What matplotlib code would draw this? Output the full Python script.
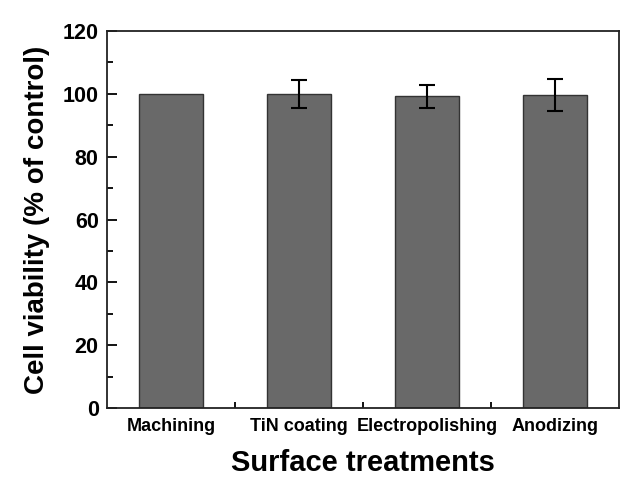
import matplotlib
matplotlib.use("Agg")
import matplotlib.pyplot as plt
from matplotlib.ticker import MultipleLocator, FixedLocator

categories = ["Machining", "TiN coating", "Electropolishing", "Anodizing"]
viability = [100.0, 100.0, 99.2, 99.6]
errors = [0.0, 4.4, 3.6, 5.0]
y_ticks = [0, 20, 40, 60, 80, 100, 120]

plt.rcParams['font.family'] = ['Liberation Sans', 'DejaVu Sans']
plt.rcParams['font.weight'] = 'bold'

fig = plt.figure(figsize=(6.23, 4.79), dpi=100)
ax = fig.add_axes([0.1717, 0.1482, 0.9936 - 0.1717, 0.9353 - 0.1482])

x = list(range(1, len(categories) + 1))
ax.bar(x, viability, width=0.5, color='#696969', edgecolor='#333333', linewidth=1.0, zorder=2)
ex = [xi for xi, e in zip(x, errors) if e > 0]
ey = [v for v, e in zip(viability, errors) if e > 0]
ee = [e for e in errors if e > 0]
ax.errorbar(ex, ey, yerr=ee, fmt='none', ecolor='black', elinewidth=1.5,
            capsize=6, capthick=1.5, zorder=3)

ax.set_xlim(0.5, 4.5)
ax.set_ylim(0, 120)
ax.set_yticks(y_ticks)
ax.yaxis.set_minor_locator(MultipleLocator(10))
ax.set_xticks(x)
ax.set_xticklabels(categories, fontsize=13, fontweight='bold')
ax.xaxis.set_minor_locator(FixedLocator([1.5, 2.5, 3.5]))
for lab in ax.get_yticklabels():
    lab.set_fontsize(15.5)
    lab.set_fontweight('bold')

ax.tick_params(axis='both', which='major', direction='in', length=7, width=1.3,
               top=False, right=False)
ax.tick_params(axis='both', which='minor', direction='in', length=4, width=1.3,
               top=False, right=False)
ax.tick_params(axis='x', which='major', pad=7)
ax.tick_params(axis='y', which='major', pad=6)

for sp in ax.spines.values():
    sp.set_linewidth(1.3)
    sp.set_color('#222222')

ax.set_ylabel("Cell viability (% of control)", fontsize=20, fontweight='bold', labelpad=9)
ax.set_xlabel("Surface treatments", fontsize=21, fontweight='bold', labelpad=10)

fig.savefig("out.png", dpi=100)
